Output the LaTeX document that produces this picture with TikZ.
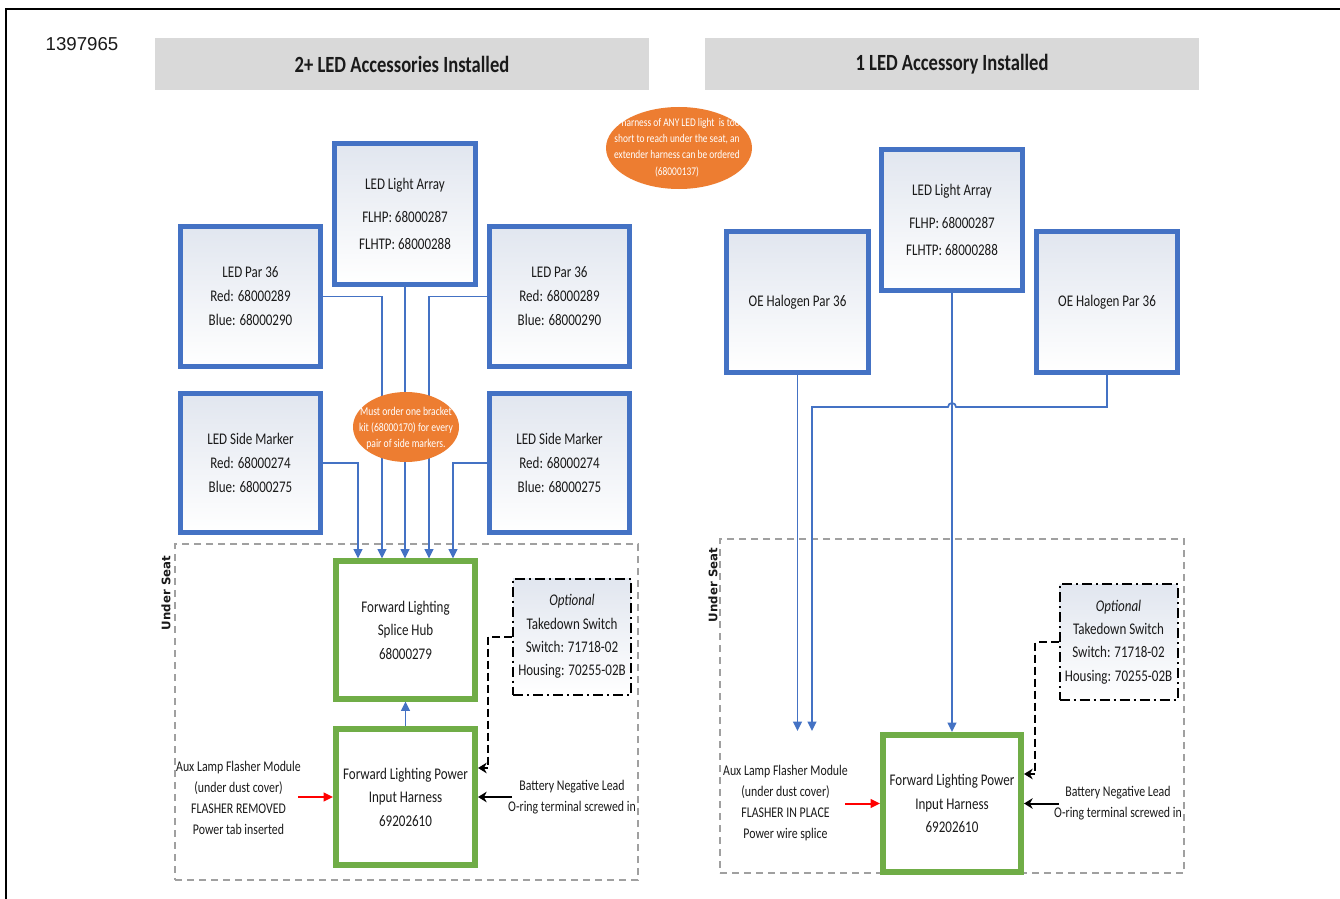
\documentclass[tikz,border=0pt]{standalone}
\usepackage{fontspec}
\usetikzlibrary{shapes.geometric,arrows.meta,calc}
\newfontfamily\calf{Carlito}[FakeStretch=0.8]
\newfontfamily\arialf{Liberation Sans}
\newfontfamily\djf{DejaVu Sans}
\newcommand\pxu{0.75pt}
\definecolor{lblue}{HTML}{4472C4}
\definecolor{lgreen}{HTML}{70AD47}
\definecolor{lorange}{HTML}{ED7D31}
\definecolor{hdrgray}{HTML}{D9D9D9}
\definecolor{seatgray}{HTML}{A0A0A0}
\definecolor{shadeblue}{HTML}{E1E6EF}
\definecolor{txt}{HTML}{1A1A1A}
\begin{document}
\begin{tikzpicture}[x=0.75pt,y=-0.75pt,
  boxfont/.style={font=\calf\fontsize{12.2}{18}\selectfont, text=txt},
  bluebox/.style={boxfont, draw=lblue, line width=3.4pt, top color=shadeblue, bottom color=white,
     minimum width=140.5*\pxu, minimum height=140.5*\pxu, align=center, inner sep=0pt},
  greenbox/.style={boxfont, draw=lgreen, line width=4.2pt, fill=white,
     minimum width=139.5*\pxu, minimum height=137.5*\pxu, align=center, inner sep=0pt},
  optbox/.style={boxfont, font=\calf\fontsize{12.2}{17.5}\selectfont, draw=black, line width=1.5pt,
     dash pattern=on 7.5pt off 3pt on 1.5pt off 3pt, top color=shadeblue, bottom color=white,
     minimum width=118*\pxu, minimum height=116*\pxu, align=center, inner sep=0pt},
  seatbox/.style={draw=seatgray, line width=1.1pt, dash pattern=on 5.5pt off 3.5pt, inner sep=0pt},
  hdr/.style={fill=hdrgray, minimum width=494*\pxu, minimum height=52*\pxu, inner sep=0pt,
     font=\calf\bfseries\fontsize{17.4}{20}\selectfont, text=txt},
  lbl/.style={font=\calf\fontsize{11.1}{15.75}\selectfont, text=txt, align=center, inner sep=0pt},
  seatlbl/.style={rotate=90, font=\djf\bfseries\fontsize{8.8}{10}\selectfont, text=txt, inner sep=0pt},
  note/.style={ellipse, fill=lorange, inner sep=0pt},
  notetxt/.style={font=\calf\fontsize{8.8}{12.2}\selectfont, text=white, align=center, inner sep=0pt},
  wire/.style={draw=lblue, line width=1.3pt},
  wirearr/.style={wire, -{Triangle[width=6.5pt,length=7pt]}},
  blkarr/.style={draw=black, line width=1.5pt, -{Stealth[width=8pt,length=6.5pt]}},
  swline/.style={draw=black, line width=1.5pt, dash pattern=on 6pt off 3pt, -{Stealth[width=8pt,length=6.5pt]}},
  redarr/.style={draw=red, line width=1.5pt, -{Triangle[width=6.5pt,length=7pt]}}
]
\useasboundingbox (0,0) rectangle (1340,899);
\fill[white] (0,0) rectangle (1340,899);
% page frame
\draw[line width=1.5pt] (6,899) -- (6,9) -- (1340,9);

% headers
\node[hdr] (hdrL) at (402,64) {2+ LED Accessories Installed};
\node[hdr] (hdrR) at (952,64) {1 LED Accessory Installed};
\node[font=\arialf\fontsize{14}{16}\selectfont, text=txt, inner sep=0pt] (docnum) at (82,44) {1397965};

% under seat regions
\node[seatbox, minimum width=463*\pxu, minimum height=336*\pxu] (seatL) at (406.5,712) {};
\node[seatbox, minimum width=464*\pxu, minimum height=334*\pxu] (seatR) at (952,706) {};
\node[seatlbl] (useatL) at (166,593) {Under Seat};
\node[seatlbl] (useatR) at (713,585) {Under Seat};

% ---------- left diagram ----------
\node[bluebox, font=\calf\fontsize{12.2}{20.25}\selectfont] (arrL) at (405,214) {LED Light Array\\[4.5pt]FLHP: 68000287\\FLHTP: 68000288};
\node[bluebox] (parL) at (250.5,296.5) {LED Par 36\\Red: 68000289\\Blue: 68000290};
\node[bluebox] (parR) at (559.5,296.5) {LED Par 36\\Red: 68000289\\Blue: 68000290};
\node[bluebox, minimum height=139.5*\pxu] (sideL) at (250.5,463) {LED Side Marker\\Red: 68000274\\Blue: 68000275};
\node[bluebox, minimum height=139.5*\pxu] (sideR) at (559.5,463) {LED Side Marker\\Red: 68000274\\Blue: 68000275};
\node[greenbox, font=\calf\fontsize{12.2}{17.6}\selectfont] (hub) at (405.5,630) {Forward Lighting\\Splice Hub\\68000279};
\node[greenbox, minimum height=136.5*\pxu, font=\calf\fontsize{12.2}{17.6}\selectfont] (harnL) at (405.5,797) {Forward Lighting Power\\Input Harness\\69202610};
\node[optbox] (optL) at (572,636.5) {\textit{Optional}\\Takedown Switch\\Switch: 71718-02\\Housing: 70255-02B};
\node[lbl] (auxL) at (238.5,797.5) {Aux Lamp Flasher Module\\(under dust cover)\\FLASHER REMOVED\\Power tab inserted};
\node[lbl] (battL) at (572,797.5) {Battery Negative Lead\\O-ring terminal screwed in};

\coordinate (x358) at (358,0);
\coordinate (x382) at (382,0);
\coordinate (x429) at (429,0);
\coordinate (x453) at (453,0);
\coordinate (x488) at (488,0);
\coordinate (y768) at (0,768);
\draw[wirearr] (parL.east) -| (hub.north -| x382);
\draw[wirearr] (arrL.south) -- (arrL.south |- hub.north);
\draw[wirearr] (parR.west) -| (hub.north -| x429);
\draw[wirearr] (sideL.east) -| (hub.north -| x358);
\draw[wirearr] (sideR.west) -| (hub.north -| x453);
\draw[wirearr] (harnL.north) -- (hub.south);
\draw[swline] (optL.west) -- (optL.west -| x488) -- (x488 |- y768) -- (harnL.east |- y768);
\coordinate (battLs) at (512,797);
\draw[blkarr] (battLs) -- (harnL.east |- battLs);
\coordinate (redLs) at (298,797);
\draw[redarr] (redLs) -- (harnL.west |- redLs);

\node[note, minimum width=106*\pxu, minimum height=70*\pxu] (noteB) at (406,427) {};
\node[notetxt, font=\calf\fontsize{9}{12}\selectfont] (noteBt) at (406,428) {Must order one bracket\\kit (68000170) for every\\pair of side markers.};

\node[note, minimum width=146*\pxu, minimum height=82*\pxu] (noteA) at (679,148) {};
\node[notetxt] (noteAt) at (677,147.5) {If harness of ANY LED light\ \ is too\\short to reach under the seat, an\\extender harness can be ordered\\(68000137)};

% ---------- right diagram ----------
\node[bluebox, font=\calf\fontsize{12.2}{20.25}\selectfont] (arrR) at (952,220) {LED Light Array\\[4.5pt]FLHP: 68000287\\FLHTP: 68000288};
\node[bluebox, minimum width=141.5*\pxu] (oeL) at (797.5,302) {OE Halogen Par 36};
\node[bluebox, minimum width=141.5*\pxu] (oeR) at (1107,302) {OE Halogen Par 36};
\node[greenbox, minimum width=138.5*\pxu, font=\calf\fontsize{12.2}{17.6}\selectfont] (harnR) at (952,803.5) {Forward Lighting Power\\Input Harness\\69202610};
\node[optbox] (optR) at (1118.5,642) {\textit{Optional}\\Takedown Switch\\Switch: 71718-02\\Housing: 70255-02B};
\node[lbl] (auxR) at (785.5,803) {Aux Lamp Flasher Module\\(under dust cover)\\FLASHER IN PLACE\\Power wire splice};
\node[lbl] (battR) at (1118,803.5) {Battery Negative Lead\\O-ring terminal screwed in};

\coordinate (endR1) at (797,731);
\coordinate (endR2) at (812,731);
\coordinate (yhop) at (0,407);
\coordinate (x1035) at (1035,0);
\coordinate (y774) at (0,774);
\draw[wirearr] (oeL.south) -- (oeL.south |- endR1);
\draw[wirearr] (oeR.south) -- (oeR.south |- yhop) -- (956,407) arc[start angle=0, end angle=-180, radius=4] -- (endR2 |- yhop) -- (endR2);
\draw[wirearr] (arrR.south) -- (harnR.north);
\draw[swline] (optR.west) -- (optR.west -| x1035) -- (x1035 |- y774) -- (harnR.east |- y774);
\coordinate (battRs) at (1059,803.5);
\draw[blkarr] (battRs) -- (harnR.east |- battRs);
\coordinate (redRs) at (845,803.5);
\draw[redarr] (redRs) -- (harnR.west |- redRs);
\end{tikzpicture}
\end{document}
